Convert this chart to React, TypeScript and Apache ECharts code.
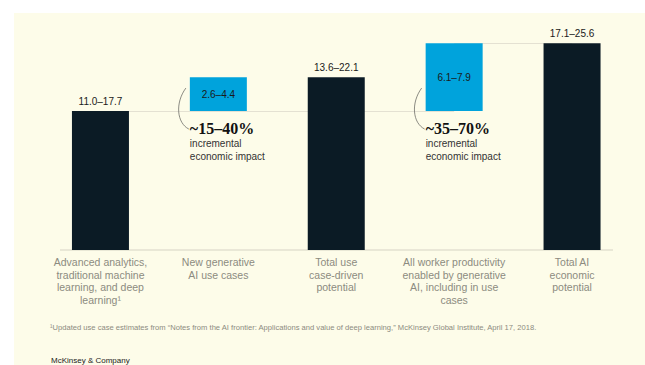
import React, { useEffect, useRef } from "react";
import * as echarts from "echarts";

const categories = [
  "Advanced analytics,\ntraditional machine\nlearning, and deep\nlearning¹",
  "New generative\nAI use cases",
  "Total use\ncase-driven\npotential",
  "All worker productivity\nenabled by generative\nAI, including in use\ncases",
  "Total AI\neconomic\npotential",
];
const rangeLabels = ["11.0–17.7", "2.6–4.4", "13.6–22.1", "6.1–7.9", "17.1–25.6"];
const baseValues = [0, 14.35, 0, 14.35, 0];
const barValues = [14.35, 3.5, 17.85, 7.0, 21.35];
const barKinds = ["total", "increment", "total", "increment", "total"];
const annotationBars = [1, 3];
const annotationValues = ["~15–40%", "~35–70%"];
const annotationNote = "incremental\neconomic impact";
const footnote =
  "¹Updated use case estimates from \u201CNotes from the AI frontier: Applications and value of deep learning,\u201D McKinsey Global Institute, April 17, 2018.";
const sourceText = "McKinsey & Company";

const DARK = "#0B1B25";
const BLUE = "#00A3DC";
const CREAM = "#FDFCE9";
const FONT = "Liberation Sans, Arial, sans-serif";
const BAR_W = 57;

export default function App() {
  const ref = useRef<HTMLDivElement>(null);
  useEffect(() => {
    if (!ref.current) return;
    const chart = echarts.init(ref.current, null, { renderer: "svg" });
    const option: any = {
      animation: false,
      backgroundColor: "#ffffff",
      grid: { left: 41.5, right: 14, top: 37, bottom: 115, containLabel: false },
      xAxis: {
        type: "category",
        data: categories,
        axisLine: { show: false },
        axisTick: { show: false },
        axisLabel: {
          interval: 0,
          margin: 6,
          color: "#8C8B80",
          fontFamily: FONT,
          fontSize: 10.5,
          lineHeight: 12.5,
          align: "center",
          verticalAlign: "top",
        },
      },
      yAxis: { type: "value", min: 0, max: 22, show: false, splitLine: { show: false } },
      series: [
        {
          type: "bar",
          stack: "w",
          barWidth: BAR_W,
          data: baseValues,
          itemStyle: { color: "transparent" },
          silent: true,
          z: 2,
          markLine: {
            z: 1,
            silent: true,
            symbol: ["none", "none"],
            label: { show: false },
            lineStyle: { color: "#E4E1D2", width: 1, type: "solid" },
            data: [
              [{ coord: [0, barValues[0]] }, { coord: [3, barValues[0]] }],
              [{ coord: [3, barValues[4]] }, { coord: [4, barValues[4]] }],
            ],
          },
        },
        {
          type: "bar",
          stack: "w",
          barWidth: BAR_W,
          z: 3,
          data: barValues.map((v, i) => ({
            value: v,
            itemStyle: { color: barKinds[i] === "total" ? DARK : BLUE },
            label: {
              show: true,
              position: barKinds[i] === "total" ? "top" : "inside",
              distance: 5,
              formatter: () => rangeLabels[i],
              color: "#1A1A1A",
              fontFamily: FONT,
              fontSize: 10,
            },
          })),
        },
      ],
    };
    chart.setOption(option);

    const graphics: any[] = [
      {
        type: "rect",
        z: -10,
        shape: { x: 14, y: 13, width: 631, height: 352 },
        style: { fill: CREAM },
        silent: true,
      },
    ];
    const zeroPt = chart.convertToPixel({ gridIndex: 0 }, [0, 0]) as number[];
    graphics.push({
      type: "line",
      z: 1,
      shape: { x1: 60, y1: zeroPt[1], x2: 613, y2: zeroPt[1] },
      style: { stroke: "#D6D3C4", lineWidth: 1 },
      silent: true,
    });
    annotationBars.forEach((bi, k) => {
      const p = chart.convertToPixel({ gridIndex: 0 }, [bi, baseValues[bi]]) as number[];
      const left = p[0] - BAR_W / 2;
      const y = p[1];
      graphics.push({
        type: "bezierCurve",
        z: 5,
        shape: {
          x1: left - 4,
          y1: y - 23,
          cpx1: left - 15,
          cpy1: y - 8,
          cpx2: left - 13,
          cpy2: y + 12,
          x2: left - 1,
          y2: y + 18,
        },
        style: { stroke: "#6E6E68", lineWidth: 0.8, fill: null },
        silent: true,
      });
      graphics.push({
        type: "text",
        z: 5,
        x: left,
        y: y + 9,
        style: {
          text: annotationValues[k],
          fill: "#111111",
          font: "bold 16px 'Liberation Serif', 'DejaVu Serif', serif",
          textVerticalAlign: "top",
        },
      });
      graphics.push({
        type: "text",
        z: 5,
        x: left,
        y: y + 26,
        style: {
          text: annotationNote,
          fill: "#333333",
          fontFamily: FONT,
          fontSize: 10,
          lineHeight: 13,
          textVerticalAlign: "top",
        },
      });
    });
    graphics.push({
      type: "text",
      z: 5,
      x: 50,
      y: 323,
      style: { text: footnote, fill: "#8C8B80", fontFamily: FONT, fontSize: 7.6, textVerticalAlign: "top" },
    });
    graphics.push({
      type: "text",
      z: 5,
      x: 51,
      y: 356,
      style: { text: sourceText, fill: "#222222", fontFamily: FONT, fontSize: 8, textVerticalAlign: "top" },
    });
    chart.setOption({ graphic: graphics });

    return () => chart.dispose();
  }, []);
  return (
    <div
      ref={ref}
      style={{ position: "absolute", left: 0, top: 0, width: 645, height: 365 }}
    />
  );
}
